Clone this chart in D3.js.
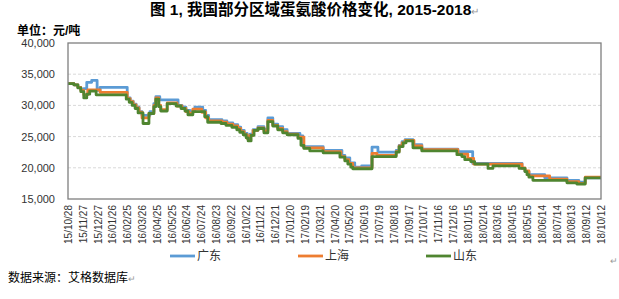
<!DOCTYPE html>
<html>
<head>
<meta charset="utf-8">
<script src="https://cdn.jsdelivr.net/npm/d3@7"></script>
<style>
  body { margin: 0; background: #fff; }
  svg { display: block; font-family: "Liberation Sans", Arial, "Noto Sans CJK SC", sans-serif; }
</style>
</head>
<body>
<div id="chart"></div>
<script>
const TITLE = '图 1, 我国部分区域蛋氨酸价格变化, 2015-2018';
const UNIT = '单位：元/吨';
const SOURCE = '数据来源：艾格数据库';

const seriesNames = ['广东', '上海', '山东'];
const seriesColors = ['#5B9BD5', '#ED7D31', '#4F8530'];

const yTicks = [15000, 20000, 25000, 30000, 35000, 40000];
const xTickLabels = [
  '15/10/28', '15/11/27', '15/12/27', '16/01/26', '16/02/25', '16/03/26',
  '16/04/25', '16/05/25', '16/06/24', '16/07/24', '16/08/23', '16/09/22',
  '16/10/22', '16/11/21', '16/12/21', '17/01/20', '17/02/19', '17/03/21',
  '17/04/20', '17/05/20', '17/06/19', '17/07/19', '17/08/18', '17/09/17',
  '17/10/17', '17/11/16', '17/12/16', '18/01/15', '18/02/14', '18/03/16',
  '18/04/15', '18/05/15', '18/06/14', '18/07/14', '18/08/13', '18/09/12',
  '18/10/12',
];

// price change points (value holds until next date)
const guangdong = [
  ['2015-10-28', 33500], ['2015-11-09', 33300], ['2015-11-17', 32900],
  ['2015-11-23', 32500], ['2015-11-29', 32700], ['2015-12-05', 33700],
  ['2015-12-15', 34000], ['2015-12-26', 32400], ['2016-01-01', 32900],
  ['2016-02-25', 31200], ['2016-03-02', 30700], ['2016-03-08', 30200],
  ['2016-03-14', 29700], ['2016-03-20', 29000], ['2016-03-26', 28400],
  ['2016-04-11', 29000], ['2016-04-19', 30300], ['2016-04-23', 31400],
  ['2016-05-01', 30900], ['2016-06-07', 30000], ['2016-06-15', 29700],
  ['2016-06-23', 29200], ['2016-07-01', 29100], ['2016-07-11', 29700],
  ['2016-07-27', 29200], ['2016-08-02', 28400], ['2016-08-08', 27700],
  ['2016-09-04', 27500], ['2016-09-14', 27200], ['2016-09-26', 26900],
  ['2016-10-06', 26500], ['2016-10-12', 26000], ['2016-10-19', 25500],
  ['2016-10-25', 25000], ['2016-10-31', 25400], ['2016-11-06', 26100],
  ['2016-11-16', 26600], ['2016-11-28', 26200], ['2016-12-06', 28000],
  ['2016-12-16', 27000], ['2016-12-26', 26600], ['2017-01-05', 26100],
  ['2017-01-14', 25500], ['2017-02-09', 25100], ['2017-02-15', 23400],
  ['2017-03-28', 22800], ['2017-05-05', 22000], ['2017-05-11', 21600],
  ['2017-05-21', 20800], ['2017-05-31', 20100], ['2017-06-14', 20300],
  ['2017-07-05', 23300], ['2017-07-17', 22500], ['2017-08-23', 22800],
  ['2017-08-29', 23600], ['2017-09-04', 24200], ['2017-09-10', 24500],
  ['2017-09-26', 23700], ['2017-10-14', 23000], ['2017-12-26', 22600],
  ['2018-01-25', 20700], ['2018-05-05', 19900], ['2018-05-11', 19400],
  ['2018-05-19', 18900], ['2018-06-20', 18400], ['2018-08-04', 18000],
  ['2018-08-28', 17700], ['2018-09-10', 18400], ['2018-10-12', 18400],
];

const shanghai = [
  ['2015-10-28', 33500], ['2015-11-09', 33300], ['2015-11-17', 32900],
  ['2015-11-23', 32400], ['2015-11-29', 31700], ['2015-12-07', 32500],
  ['2016-01-01', 32100], ['2016-02-25', 31100], ['2016-03-02', 30600],
  ['2016-03-08', 30100], ['2016-03-14', 29600], ['2016-03-20', 28900],
  ['2016-03-26', 28000], ['2016-04-09', 28700], ['2016-04-19', 30000],
  ['2016-04-23', 31200], ['2016-04-29', 30000], ['2016-05-03', 29300],
  ['2016-05-16', 30400], ['2016-06-05', 29900], ['2016-06-15', 29500],
  ['2016-06-23', 29000], ['2016-06-29', 28700], ['2016-07-07', 29400],
  ['2016-07-25', 28900], ['2016-08-02', 28000], ['2016-08-08', 27500],
  ['2016-09-04', 27300], ['2016-09-14', 27000], ['2016-09-26', 26700],
  ['2016-10-06', 26300], ['2016-10-12', 25800], ['2016-10-19', 25300],
  ['2016-10-25', 24700], ['2016-10-31', 25200], ['2016-11-06', 26000],
  ['2016-11-16', 26400], ['2016-11-28', 25900], ['2016-12-06', 27600],
  ['2016-12-16', 26800], ['2016-12-26', 26300], ['2017-01-05', 25800],
  ['2017-01-14', 25400], ['2017-02-05', 24900], ['2017-02-17', 23200],
  ['2017-03-28', 22600], ['2017-05-03', 21800], ['2017-05-11', 21300],
  ['2017-05-19', 20700], ['2017-05-27', 20000], ['2017-07-05', 22300],
  ['2017-07-15', 22000], ['2017-08-23', 22600], ['2017-08-29', 23500],
  ['2017-09-04', 24000], ['2017-09-10', 24400], ['2017-09-28', 23500],
  ['2017-10-14', 22900], ['2017-12-26', 22200], ['2018-01-15', 21500],
  ['2018-01-27', 20600], ['2018-05-05', 20000], ['2018-05-11', 19500],
  ['2018-05-19', 18700], ['2018-06-30', 18200], ['2018-08-04', 17800],
  ['2018-08-28', 17500], ['2018-09-10', 18500], ['2018-10-12', 18500],
];

const shandong = [
  ['2015-10-28', 33500], ['2015-11-09', 33300], ['2015-11-17', 32800],
  ['2015-11-23', 32200], ['2015-11-29', 31200], ['2015-12-05', 31800],
  ['2015-12-11', 32300], ['2015-12-24', 31700], ['2016-02-23', 31000],
  ['2016-02-29', 30500], ['2016-03-06', 30000], ['2016-03-12', 29500],
  ['2016-03-18', 28800], ['2016-03-28', 27100], ['2016-04-09', 28700],
  ['2016-04-19', 29800], ['2016-04-23', 31000], ['2016-04-29', 29800],
  ['2016-05-03', 29100], ['2016-05-16', 30300], ['2016-06-03', 29900],
  ['2016-06-13', 29500], ['2016-06-21', 29100], ['2016-06-27', 28500],
  ['2016-07-07', 29000], ['2016-07-31', 28200], ['2016-08-06', 27300],
  ['2016-09-02', 27100], ['2016-09-12', 26800], ['2016-09-24', 26500],
  ['2016-10-04', 26100], ['2016-10-10', 25700], ['2016-10-17', 25300],
  ['2016-10-23', 24800], ['2016-10-27', 24300], ['2016-11-02', 25200],
  ['2016-11-08', 26000], ['2016-11-16', 26300], ['2016-11-28', 25600],
  ['2016-12-06', 27400], ['2016-12-16', 26700], ['2016-12-26', 26100],
  ['2017-01-05', 25600], ['2017-01-14', 25300], ['2017-02-05', 24700],
  ['2017-02-11', 23600], ['2017-02-17', 23100], ['2017-03-01', 22700],
  ['2017-03-28', 22400], ['2017-05-01', 21700], ['2017-05-11', 21100],
  ['2017-05-17', 20600], ['2017-05-23', 20100], ['2017-05-27', 19850],
  ['2017-07-05', 21800], ['2017-08-23', 22500], ['2017-08-29', 23400],
  ['2017-09-06', 24000], ['2017-09-12', 24300], ['2017-09-26', 23200],
  ['2017-10-14', 22700], ['2017-12-24', 22100], ['2018-01-03', 21800],
  ['2018-01-09', 21300], ['2018-01-21', 21000], ['2018-01-29', 20600],
  ['2018-02-25', 19900], ['2018-03-07', 20300], ['2018-04-29', 19900],
  ['2018-05-11', 19400], ['2018-05-15', 18900], ['2018-05-19', 18500],
  ['2018-05-27', 18000], ['2018-08-04', 17600], ['2018-08-24', 17400],
  ['2018-09-10', 18400], ['2018-10-12', 18400],
];

const WIDTH = 619;
const HEIGHT = 299;
const MARGIN = { TOP: 43, RIGHT: 18, BOTTOM: 100, LEFT: 68 };
const plotWidth = WIDTH - MARGIN.LEFT - MARGIN.RIGHT;
const plotHeight = HEIGHT - MARGIN.TOP - MARGIN.BOTTOM;

const parseDate = d3.utcParse('%Y-%m-%d');
const parseTick = d3.utcParse('%y/%m/%d');
const tickDates = xTickLabels.map(parseTick);

const svg = d3.select('#chart').append('svg')
  .attr('width', WIDTH)
  .attr('height', HEIGHT);

const x = d3.scaleUtc()
  .domain([tickDates[0], tickDates[tickDates.length - 1]])
  .range([0, plotWidth]);
const y = d3.scaleLinear()
  .domain([15000, 40000])
  .range([plotHeight, 0]);

// title + unit
const title = svg.append('text')
  .attr('x', 150).attr('y', 15)
  .style('font-size', '15.5px').style('font-weight', 'bold')
  .attr('fill', '#000');
title.append('tspan').text(TITLE);
title.append('tspan').attr('fill', '#999').style('font-weight', 'normal')
  .style('font-size', '10px').text('↵');

svg.append('text')
  .attr('x', 17).attr('y', 35)
  .style('font-size', '12px').style('font-weight', 'bold')
  .text(UNIT);

const g = svg.append('g')
  .attr('transform', `translate(${MARGIN.LEFT}, ${MARGIN.TOP})`);

// grid
g.append('g')
  .selectAll('line')
  .data(yTicks.slice(1, -1))
  .join('line')
  .attr('x1', 0).attr('x2', plotWidth)
  .attr('y1', (d) => y(d)).attr('y2', (d) => y(d))
  .attr('stroke', '#d9d9d9')
  .attr('stroke-dasharray', '3,2');

// y axis labels
const yAxis = d3.axisLeft(y)
  .tickValues(yTicks)
  .tickSize(0)
  .tickPadding(13)
  .tickFormat(d3.format(','));
g.append('g')
  .call(yAxis)
  .call((s) => s.select('.domain').remove())
  .selectAll('text')
  .style('font-size', '11px')
  .style('font-family', '"Liberation Sans", Arial, sans-serif')
  .attr('fill', '#333');

// x axis labels (vertical)
const xAxis = d3.axisBottom(x)
  .tickValues(tickDates)
  .tickSize(0)
  .tickFormat((d, i) => xTickLabels[i]);
g.append('g')
  .attr('transform', `translate(0, ${plotHeight})`)
  .call(xAxis)
  .call((s) => s.select('.domain').remove())
  .selectAll('text')
  .attr('transform', 'rotate(-90)')
  .attr('x', -6)
  .attr('y', 0)
  .attr('dy', '0.35em')
  .style('text-anchor', 'end')
  .style('font-size', '10px')
  .style('font-family', '"Liberation Sans", Arial, sans-serif')
  .attr('fill', '#333');

// lines
const line = d3.line()
  .x((d) => x(parseDate(d[0])))
  .y((d) => y(d[1]))
  .curve(d3.curveStepAfter);

[guangdong, shanghai, shandong].forEach((series, i) => {
  g.append('path')
    .datum(series)
    .attr('d', line)
    .attr('fill', 'none')
    .attr('stroke', seriesColors[i])
    .attr('stroke-width', 2.8)
    .attr('stroke-linejoin', 'round');
});

// frame
g.append('rect')
  .attr('width', plotWidth).attr('height', plotHeight)
  .attr('fill', 'none')
  .attr('stroke', '#7f7f7f')
  .attr('stroke-width', 1.3);

// legend
const legendX = [170, 298, 426];
const legend = svg.append('g').attr('transform', 'translate(0, 256)');
seriesNames.forEach((name, i) => {
  legend.append('line')
    .attr('x1', legendX[i]).attr('x2', legendX[i] + 25)
    .attr('stroke', seriesColors[i]).attr('stroke-width', 2.8);
  legend.append('text')
    .attr('x', legendX[i] + 27).attr('dy', '0.35em')
    .style('font-size', '12px')
    .attr('fill', '#333')
    .text(name);
});

svg.append('text')
  .attr('x', 610).attr('y', 264)
  .style('font-size', '9px').attr('fill', '#999')
  .text('↵');

const src = svg.append('text')
  .attr('x', 8).attr('y', 282)
  .style('font-size', '12px').attr('fill', '#000');
src.append('tspan').text(SOURCE);
src.append('tspan').attr('fill', '#999').style('font-size', '9px').text('↵');
</script>
</body>
</html>
